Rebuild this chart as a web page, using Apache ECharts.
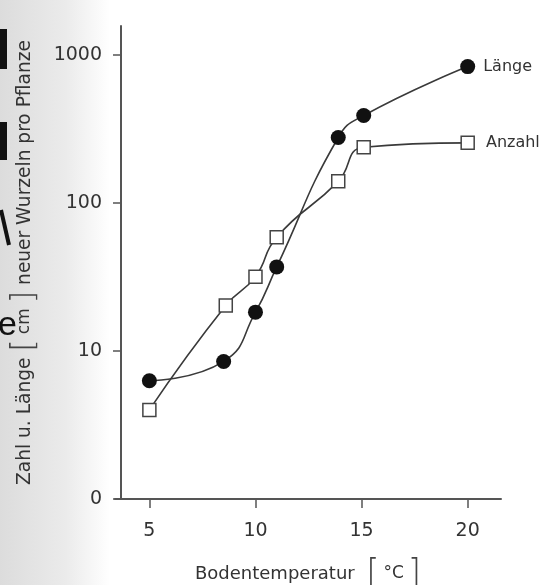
<!DOCTYPE html>
<html>
<head>
<meta charset="utf-8">
<script src="https://cdn.jsdelivr.net/npm/echarts@6/dist/echarts.min.js"></script>
<style>html,body{margin:0;padding:0;background:#fff}#c{width:547px;height:585px}</style>
</head>
<body>
<div id="c"></div>
<script>
// Data
var laengeTemp = [5, 8.5, 10, 11, 13.9, 15.1, 20];
var laengeVal = [6.3, 8.5, 18.3, 37, 277, 390, 835];
var anzahlTemp = [5, 8.6, 10, 11, 13.9, 15.1, 20];
var anzahlVal = [4.0, 20.3, 31.8, 58.7, 140, 238, 255];
var xTicks = [5, 10, 15, 20];
var yTicks = [1, 10, 100, 1000];
var yTickLabels = ['0', '10', '100', '1000'];
var seriesNames = ['Länge', 'Anzahl'];

function pairs(xs, ys, name) {
  return xs.map(function (x, i) {
    var d = { value: [x, ys[i]] };
    if (i === xs.length - 1) {
      d.label = { show: true, formatter: name };
    }
    return d;
  });
}

var FONT = 'DejaVu Sans';
var chart = echarts.init(document.getElementById('c'), null, { renderer: 'canvas' });
chart.setOption({
  backgroundColor: '#fff',
  animation: false,
  graphic: [
    { type: 'rect', shape: { x: 0, y: 0, width: 110, height: 585 }, z: -10,
      style: { fill: { type: 'linear', x: 0, y: 0, x2: 1, y2: 0,
        colorStops: [{ offset: 0, color: '#dcdcdc' }, { offset: 0.6, color: '#ebebeb' }, { offset: 1, color: '#ffffff' }] } } },
    { type: 'rect', shape: { x: 0, y: 29, width: 7, height: 40 }, style: { fill: '#111' } },
    { type: 'rect', shape: { x: 0, y: 122, width: 7, height: 38 }, style: { fill: '#111' } },
    { type: 'line', shape: { x1: 1, y1: 210, x2: 9, y2: 245 }, style: { stroke: '#111', lineWidth: 4 } },
    { type: 'text', x: -2, y: 309, style: { text: 'e', fontSize: 34, fontFamily: 'Liberation Sans', fill: '#111' } }
  ],
  grid: { left: 115, right: 46, top: 26, bottom: 86, outerBoundsMode: 'none', containLabel: false },
  xAxis: {
    type: 'value', min: 3.38, max: 21.57,
    name: 'Bodentemperatur  {b|[}{u|°C}{b|]}',
    nameLocation: 'middle', nameGap: 58,
    nameTextStyle: { fontFamily: FONT, fontSize: 18, color: '#333',
      rich: { b: { fontSize: 34, fontFamily: 'DejaVu Sans', fontWeight: 200, color: '#444' },
              u: { fontSize: 17, fontFamily: FONT, color: '#333', padding: [0, 4, 0, 4] } } },
    axisLine: { lineStyle: { color: '#555', width: 2 } },
    axisTick: { customValues: xTicks, length: 9, lineStyle: { color: '#555', width: 1.5 } },
    axisLabel: { customValues: xTicks, fontFamily: FONT, fontSize: 19, color: '#333', margin: 23 },
    splitLine: { show: false }
  },
  yAxis: {
    type: 'log', logBase: 10, min: 1, max: 1570, offset: -6,
    name: 'Zahl u. Länge {b|[}{u|cm}{b|]} neuer Wurzeln pro Pflanze',
    nameLocation: 'middle', nameGap: 80, nameRotate: 90,
    nameTextStyle: { fontFamily: FONT, fontSize: 18.6, color: '#333',
      rich: { b: { fontSize: 32, fontFamily: 'DejaVu Sans', fontWeight: 200, color: '#444' },
              u: { fontSize: 17, fontFamily: FONT, color: '#333', padding: [0, 5, 0, 5] } } },
    axisLine: { show: true, lineStyle: { color: '#555', width: 2 } },
    axisTick: { show: true, customValues: yTicks, length: 8, lineStyle: { color: '#555', width: 1.5 } },
    axisLabel: { customValues: yTicks, fontFamily: FONT, fontSize: 19, color: '#333', margin: 19,
      padding: [8, 0, 0, 0],
      formatter: function (v) { var i = yTicks.indexOf(v); return i >= 0 ? yTickLabels[i] : ''; } },
    splitLine: { show: false }
  },
  series: [
    {
      name: seriesNames[0], type: 'line', smooth: 0.5,
      data: pairs(laengeTemp, laengeVal, seriesNames[0]),
      symbol: 'circle', symbolSize: 15,
      itemStyle: { color: '#111', borderColor: '#111', borderWidth: 0 },
      lineStyle: { color: '#3a3a3a', width: 1.6 },
      label: { position: 'right', distance: 8, fontFamily: FONT, fontSize: 16, color: '#333' },
      z: 3
    },
    {
      name: seriesNames[1], type: 'line', smooth: 0.5,
      data: pairs(anzahlTemp, anzahlVal, seriesNames[1]),
      symbol: 'rect', symbolSize: 13,
      itemStyle: { color: '#fff', borderColor: '#444', borderWidth: 1.5 },
      lineStyle: { color: '#3a3a3a', width: 1.6 },
      label: { position: 'right', distance: 11, fontFamily: FONT, fontSize: 16, color: '#333' },
      z: 4
    }
  ]
});
</script>
</body>
</html>
